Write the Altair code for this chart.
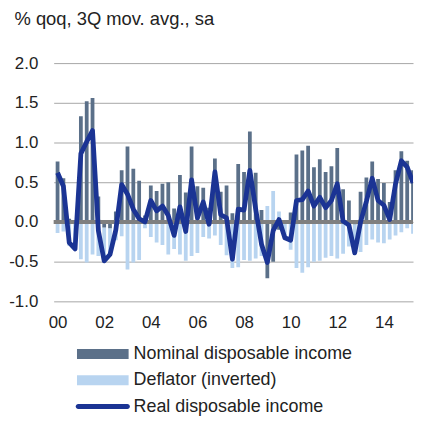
import json
import altair as alt
import pandas as pd

# quarter index 0 = 2000Q1 ... 61 = 2015Q2
quarters = list(range(62))

nominal = [0.76, 0.55, 0.04, 0.00, 1.33, 1.52, 1.56, 0.32, -0.07, -0.08,
           0.13, 0.65, 0.95, 0.67, 0.52, 0.08, 0.46, 0.39, 0.48, 0.50,
           0.17, 0.59, 0.37, 0.95, 0.45, 0.43, 0.18, 0.80, 0.38, 0.46,
           0.11, 0.73, 0.63, 1.14, 0.62, 0.15, -0.71, -0.50, -0.10, 0.02,
           0.12, 0.85, 0.90, 0.96, 0.69, 0.79, 0.63, 0.70, 0.93, 0.41,
           0.27, -0.03, 0.38, 0.56, 0.76, 0.54, 0.49, 0.25, 0.65, 0.89,
           0.77, 0.65]

deflator_inv = [-0.14, -0.12, -0.30, -0.34, -0.47, -0.51, -0.41, -0.43, -0.42, -0.33,
                -0.23, -0.18, -0.60, -0.51, -0.48, -0.08, -0.19, -0.26, -0.29, -0.41,
                -0.34, -0.41, -0.49, -0.43, -0.39, -0.19, -0.21, -0.17, -0.29, -0.42,
                -0.58, -0.57, -0.48, -0.49, -0.46, -0.43, 0.20, 0.39, 0.13, -0.22,
                -0.35, -0.58, -0.64, -0.57, -0.50, -0.49, -0.45, -0.43, -0.46, -0.40,
                -0.31, -0.36, -0.38, -0.29, -0.22, -0.26, -0.27, -0.22, -0.17, -0.13,
                -0.08, -0.15]

real = [0.62, 0.45, -0.26, -0.34, 0.86, 1.01, 1.15, -0.11, -0.49, -0.41,
        -0.10, 0.47, 0.35, 0.16, 0.04, 0.00, 0.27, 0.14, 0.20, 0.08,
        -0.17, 0.19, -0.12, 0.53, 0.05, 0.25, -0.03, 0.63, 0.09, 0.05,
        -0.47, 0.16, 0.15, 0.65, 0.16, -0.28, -0.51, -0.11, 0.03, -0.20,
        -0.23, 0.27, 0.28, 0.39, 0.20, 0.31, 0.18, 0.27, 0.48, 0.01,
        -0.04, -0.39, 0.00, 0.26, 0.55, 0.27, 0.21, 0.03, 0.48, 0.77,
        0.69, 0.49]

year_labels = ["00", "02", "04", "06", "08", "10", "12", "14"]
y_ticks = [-1.0, -0.5, 0.0, 0.5, 1.0, 1.5, 2.0]
y_tick_labels = ["-1.0", "-0.5", "0.0", "0.5", "1.0", "1.5", "2.0"]

series_names = ["Nominal disposable income", "Deflator (inverted)", "Real disposable income"]
series_colors = ["#5b7089", "#b8d4f0", "#1b3494"]

FONT = "Liberation Sans"
TXT = "#222222"

# ---- tables built from the arrays ----
bars_df = pd.DataFrame(
    {"q": quarters, "series": series_names[1], "value": deflator_inv}
)
bars_df = pd.concat(
    [bars_df, pd.DataFrame({"q": quarters, "series": series_names[0], "value": nominal})],
    ignore_index=True,
)
line_df = pd.DataFrame({"q": quarters, "series": series_names[2], "value": real})
zero_df = pd.DataFrame({"q": [0], "value": [0.0]})

tick_quarters = [8 * i for i in range(len(year_labels))]
x_label_expr = json.dumps(year_labels) + "[round(datum.value / 8)]"
y_label_expr = json.dumps(y_tick_labels) + "[round((datum.value + 1) * 2)]"

x_scale = alt.Scale(domain=[-0.67, 61], nice=False, zero=False, padding=0)
y_scale = alt.Scale(domain=[-1, 2], nice=False, zero=False, padding=0)

x_axis = alt.Axis(
    values=tick_quarters,
    labelExpr=x_label_expr,
    grid=False,
    ticks=False,
    domain=False,
    title=None,
    labelFont=FONT,
    labelFontSize=17,
    labelColor=TXT,
    labelPadding=13,
    labelFlush=False,
    labelOverlap=False,
)

y_axis = alt.Axis(
    values=y_ticks,
    tickCount=len(y_ticks),
    labelExpr=y_label_expr,
    labelOverlap=False,
    labelFlush=False,
    labelBound=False,
    grid=True,
    gridColor="#a6a6a6",
    gridWidth=1,
    ticks=False,
    domain=False,
    labelFont=FONT,
    labelFontSize=17,
    labelColor=TXT,
    labelPadding=16,
    title="% qoq, 3Q mov. avg., sa",
    titleAngle=0,
    titleAlign="left",
    titleBaseline="top",
    titleX=-40,
    titleY=-54,
    titleFont=FONT,
    titleFontSize=18.5,
    titleFontWeight="normal",
    titleColor=TXT,
)

x_enc = alt.X("q:Q", scale=x_scale, axis=x_axis)
y_enc = alt.Y("value:Q", scale=y_scale, axis=y_axis)

color_scale = alt.Scale(domain=series_names, range=series_colors)

bar_path = "M-5.2,-1H5.2V1H-5.2Z"
line_path = "M-4.95,-0.5H4.95A0.5,0.5 0 0 1 4.95,0.5H-4.95A0.5,0.5 0 0 1 -4.95,-0.5Z"
symbol_expr = (
    "datum.value === '" + series_names[2] + "' ? '" + line_path + "' : '" + bar_path + "'"
)

legend = alt.Legend(
    title=None,
    orient="none",
    legendX=23,
    legendY=284,
    direction="vertical",
    padding=0,
    symbolType={"expr": symbol_expr},
    symbolSize=100,
    symbolStrokeWidth=0,
    symbolOffset=17.5,
    labelOffset=22,
    labelFont=FONT,
    labelFontSize=18,
    labelColor=TXT,
    labelLimit=400,
    rowPadding=8.5,
)

bars = (
    alt.Chart(bars_df)
    .mark_bar(size=3.8, clip=True)
    .encode(
        x=x_enc,
        y=y_enc,
        color=alt.Color("series:N", scale=color_scale, legend=legend),
    )
)

zero_rule = (
    alt.Chart(zero_df)
    .mark_rule(color="#7f7f7f", strokeWidth=4)
    .encode(y=y_enc)
)

line = (
    alt.Chart(line_df)
    .mark_line(strokeWidth=4.8, strokeJoin="round", strokeCap="butt", clip=True)
    .encode(
        x=x_enc,
        y=y_enc,
        color=alt.Color("series:N", scale=color_scale, legend=None),
    )
)

chart = (
    alt.layer(bars, zero_rule, line)
    .properties(
        width=362,
        height=240,
        padding={"left": 0, "top": 0, "right": 0, "bottom": 0},
        background="white",
    )
    .configure_view(stroke=None)
)

chart.save("out.html", embed_options={"renderer": "svg", "actions": False})
